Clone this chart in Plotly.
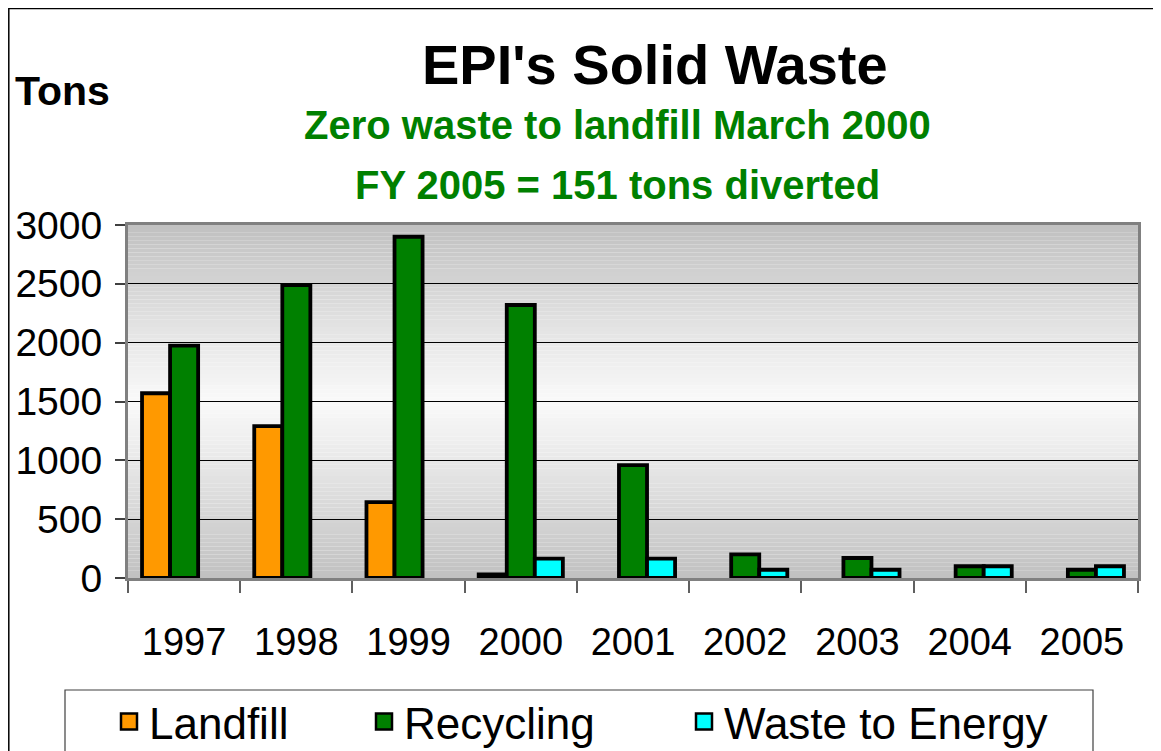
import plotly.graph_objects as go

# ---- data ----
years = ['1997', '1998', '1999', '2000', '2001', '2002', '2003', '2004', '2005']
landfill = [1570, 1290, 645, 30, None, None, None, None, None]
recycling = [1975, 2490, 2900, 2320, 960, 200, 170, 100, 70]
waste_to_energy = [None, None, None, 165, 165, 70, 70, 100, 100]
series_names = ['Landfill', 'Recycling', 'Waste to Energy']
series_colors = ['#FF9900', '#008000', '#00FFFF']
y_ticks = [0, 500, 1000, 1500, 2000, 2500, 3000]

title_text = "EPI's Solid Waste"
subtitle1 = "Zero waste to landfill March 2000"
subtitle2 = "FY 2005 = 151 tons diverted"
y_title = "Tons"

FONT = "Liberation Sans, Arial, sans-serif"

# page shows the figure offset by the body margin (8px), so work in screen px
OFF = 8
W, H = 1161 - OFF, 751 - OFF
L, R, T, B = 128, 1138, 225, 578   # plot area in screen pixels


def px(x):
    return (x - L) / (R - L)


def py(y):
    return (B - y) / (B - T)


fig = go.Figure()

values = [landfill, recycling, waste_to_energy]
legend_ids = ['legend', 'legend2', 'legend3']
for name, vals, col, lg in zip(series_names, values, series_colors, legend_ids):
    fig.add_trace(go.Bar(
        x=years, y=vals, name=name, legendgroup=name, showlegend=False,
        marker=dict(color=col, line=dict(color='black', width=3.8)),
    ))
    # legend proxy (bigger square symbol)
    fig.add_trace(go.Scatter(
        x=[None], y=[None], mode='markers', name=name, legendgroup=name,
        legend=lg, showlegend=True,
        marker=dict(symbol='square', size=24, color=col,
                    line=dict(color='black', width=2.5)),
    ))

# gradient background (gray - white - gray)
shapes = []
N = 90
for i in range(N):
    t0, t1 = i / N, (i + 1) / N
    tm = (t0 + t1) / 2
    d = abs(2 * tm - 1)
    c = int(round(249 - 57 * d ** 1.1))
    shapes.append(dict(type='rect', xref='x domain', yref='y domain',
                       x0=0, x1=1, y0=t0, y1=t1, layer='below',
                       line=dict(width=0), fillcolor=f'rgb({c},{c},{c})'))

# outer chart border
shapes.append(dict(type='rect', xref='paper', yref='paper',
                   x0=px(8.8), x1=px(1180), y0=py(780), y1=py(8.6),
                   line=dict(color='black', width=1.5), fillcolor='rgba(0,0,0,0)', layer='above'))
# legend box
shapes.append(dict(type='rect', xref='paper', yref='paper',
                   x0=px(65), x1=px(1093), y0=py(790), y1=py(690),
                   line=dict(color='#404040', width=1.2), fillcolor='rgba(0,0,0,0)', layer='above'))

annotations = [
    dict(text=f'<b>{title_text}</b>', x=px(655), y=py(64), xref='paper', yref='paper',
         xanchor='center', yanchor='middle', showarrow=False,
         font=dict(family=FONT, size=56, color='black')),
    dict(text=f'<b>{subtitle1}</b>', x=px(617), y=py(125), xref='paper', yref='paper',
         xanchor='center', yanchor='middle', showarrow=False,
         font=dict(family=FONT, size=40, color='#008000')),
    dict(text=f'<b>{subtitle2}</b>', x=px(617), y=py(185), xref='paper', yref='paper',
         xanchor='center', yanchor='middle', showarrow=False,
         font=dict(family=FONT, size=40, color='#008000')),
    dict(text=f'<b>{y_title}</b>', x=px(13), y=py(91), xref='paper', yref='paper',
         xanchor='left', yanchor='middle', showarrow=False,
         font=dict(family=FONT, size=41, color='black')),
]

legend_common = dict(orientation='h', yanchor='middle', xanchor='left',
                     y=py(722), bgcolor='rgba(0,0,0,0)', borderwidth=0,
                     font=dict(family=FONT, size=44, color='black'),
                     itemsizing='trace')

fig.update_layout(
    width=W, height=H,
    margin=dict(l=L - OFF, r=W - (R - OFF), t=T - OFF, b=H - (B - OFF), autoexpand=False),
    paper_bgcolor='white', plot_bgcolor='white',
    barmode='group', bargap=0.25, bargroupgap=0,
    shapes=shapes, annotations=annotations,
    legend=dict(x=px(109), **legend_common),
    legend2=dict(x=px(364), **legend_common),
    legend3=dict(x=px(684), **legend_common),
    xaxis=dict(
        type='category', categoryorder='array', categoryarray=years,
        showgrid=False, showline=True, linecolor='#808080', linewidth=3, mirror=True,
        ticks='outside', tickson='boundaries', ticklen=12, tickcolor='#606060', tickwidth=1.5,
        tickfont=dict(family=FONT, size=38, color='black'), ticklabelstandoff=28,
        zeroline=False,
    ),
    yaxis=dict(
        range=[0, 3000], tickvals=y_ticks, ticktext=[str(v) for v in y_ticks],
        showgrid=True, gridcolor='black', gridwidth=1,
        showline=True, linecolor='#808080', linewidth=3, mirror=True,
        ticks='outside', ticklen=10, tickcolor='#404040', tickwidth=1.5,
        tickfont=dict(family=FONT, size=39, color='black'), ticklabelstandoff=5,
        zeroline=False,
    ),
)

fig.write_html('out.html')
